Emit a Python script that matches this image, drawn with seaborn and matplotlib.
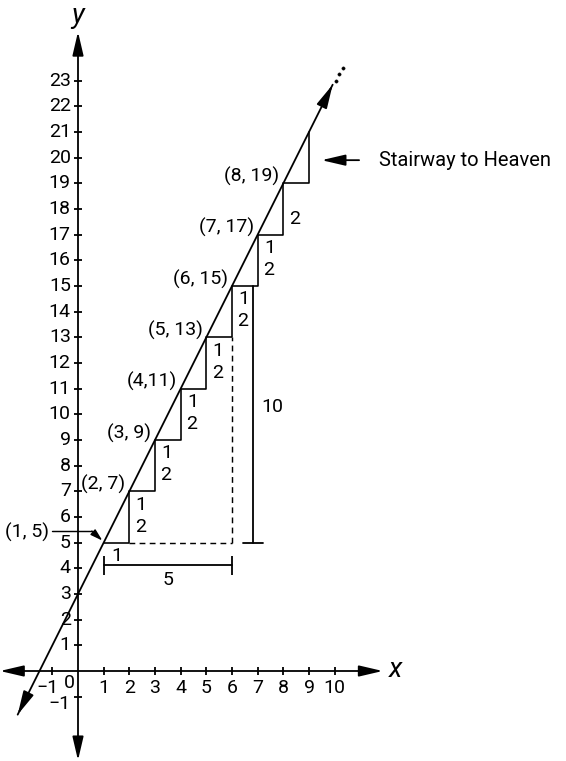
import numpy as np
import pandas as pd
import seaborn as sns
import matplotlib.pyplot as plt

# line y = 2x + 3 and the stairs under it
slope = 2
intercept = 3
line_x = [-2.35, 9.92]
step_x = [1, 2, 3, 4, 5, 6, 7, 8, 9]
step_y = [5, 7, 9, 11, 13, 15, 17, 19, 21]
point_labels = ["(1, 5)", "(2, 7)", "(3, 9)", "(4,11)", "(5, 13)",
                "(6, 15)", "(7, 17)", "(8, 19)"]
x_ticks = [-1, 1, 2, 3, 4, 5, 6, 7, 8, 9, 10]
y_ticks = [-1, 1, 2, 3, 4, 5, 6, 7, 8, 9, 10, 11, 12, 13, 14, 15, 16, 17,
           18, 19, 20, 21, 22, 23]
run_label = "5"
rise_label = "10"
note = "Stairway to Heaven"

sns.set_theme(style="white")
plt.rcParams['font.family'] = ['Roboto', 'DejaVu Sans']
plt.rcParams['text.color'] = 'black'

fig = plt.figure(figsize=(5.66, 7.61), dpi=100)
ax = fig.add_axes([0, 0, 1, 1])
ax.set_xlim(-78 / 25.67, 488 / 25.67)
ax.set_ylim(-90 / 25.67, 671 / 25.67)
ax.axis('off')

lw = 1.3
fs = 14
black = 'black'
arrow = dict(arrowstyle='-|>,head_length=1.2,head_width=0.28', color=black,
             lw=lw, shrinkA=0, shrinkB=0)
arrow2 = dict(arrowstyle='<|-|>,head_length=1.2,head_width=0.28', color=black,
              lw=lw, shrinkA=0, shrinkB=0)

# axes with arrows
ax.annotate('', xy=(11.87, 0), xytext=(-3.04, 0), arrowprops=arrow2)
ax.annotate('', xy=(0, 24.9), xytext=(0, -3.48), arrowprops=arrow2)
ax.text(12.1, 0.05, 'x', fontsize=20, style='italic', va='center', ha='left')
ax.text(0, 25.5, 'y', fontsize=20, style='italic', va='center', ha='center')

# ticks
tl = 0.15
ax.vlines(x_ticks, -tl, tl, color=black, lw=lw)
ax.hlines(y_ticks, -tl, tl, color=black, lw=lw)
for t in x_ticks:
    lab = str(t).replace('-', '\u2212')
    ax.text(t - (0.18 if t < 0 else 0), -0.33, lab, fontsize=fs,
            ha='center', va='top')
ax.text(-0.33, -0.13, '0', fontsize=fs, ha='center', va='top')
for t in y_ticks:
    lab = str(t).replace('-', '\u2212')
    ax.text(-0.28, t - (0.3 if t < 0 else 0), lab, fontsize=fs,
            ha='right', va='center')

# main line
line_df = pd.DataFrame({'x': line_x,
                        'y': [slope * v + intercept for v in line_x]})
sns.lineplot(data=line_df, x='x', y='y', color=black, lw=lw, ax=ax,
             estimator=None, sort=False)
ax.annotate('', xy=(line_df.x[1], line_df.y[1]),
            xytext=(line_df.x[1] - 0.3, line_df.y[1] - 0.6), arrowprops=arrow)
ax.annotate('', xy=(line_df.x[0], line_df.y[0]),
            xytext=(line_df.x[0] + 0.3, line_df.y[0] + 0.6), arrowprops=arrow)
# continuation dots
dots = pd.DataFrame({'x': [10.05, 10.18, 10.31], 'y': [22.98, 23.24, 23.5]})
sns.scatterplot(data=dots, x='x', y='y', color=black, s=6, ax=ax,
                edgecolor=None)

# stairs
steps = pd.DataFrame({'x': step_x, 'y': step_y})
sns.lineplot(data=steps, x='x', y='y', color=black, lw=lw * 0.9, ax=ax,
             estimator=None, sort=False, drawstyle='steps-post')

# run/rise labels on each step
ax.text(step_x[0] + 0.5, step_y[0] - 0.18, '1', fontsize=fs,
        ha='center', va='top')
for i in range(1, 7):
    x0, y0 = step_x[i], step_y[i]
    ax.text(x0 + 0.46, y0 - 0.52, '1', fontsize=fs, ha='center', va='center')
    ax.text(x0 + 0.43, y0 - 1.38, '2', fontsize=fs, ha='center', va='center')
ax.text(step_x[7] + 0.43, step_y[7] - 1.38, '2', fontsize=fs,
        ha='center', va='center')

# point labels
for i, lab in enumerate(point_labels):
    if i == 0:
        continue
    ax.text(step_x[i] - 0.15, step_y[i] + 0.27, lab, fontsize=fs,
            ha='right', va='center')
ax.text(-1.12, 5.4, point_labels[0], fontsize=fs, ha='right', va='center')
ax.plot([-1.0, 0.54], [5.45, 5.45], color=black, lw=lw * 0.8)
ax.annotate('', xy=(0.95, 5.08), xytext=(0.54, 5.45),
            arrowprops=dict(arrowstyle='-|>,head_length=0.6,head_width=0.18',
                            color=black, lw=lw * 0.8, shrinkA=0, shrinkB=0))

# dashed run/rise guides
ax.plot([step_x[1], step_x[5]], [step_y[0], step_y[0]], color=black,
        lw=lw * 0.8, ls=(0, (4, 3)))
ax.plot([step_x[5], step_x[5]], [step_y[0], step_y[4]], color=black,
        lw=lw * 0.8, ls=(0, (4, 3)))

# run bracket (5)
by = 4.12
ax.plot([step_x[0], step_x[5]], [by, by], color=black, lw=lw)
ax.vlines([step_x[0], step_x[5]], by - 0.38, by + 0.36, color=black, lw=lw)
ax.text(3.5, 3.55, run_label, fontsize=fs, ha='center', va='center')

# rise bracket (10)
rx = 6.8
ax.plot([rx, rx], [step_y[0], step_y[5]], color=black, lw=lw)
ax.plot([rx - 0.38, rx + 0.4], [step_y[0], step_y[0]], color=black, lw=lw)
ax.text(7.15, 10.27, rise_label, fontsize=fs, ha='left', va='center')

# annotation
ax.annotate('', xy=(9.49, 19.9), xytext=(10.95, 19.9), arrowprops=arrow)
ax.text(11.72, 19.9, note, fontsize=14.5, ha='left', va='center')

fig.savefig('out.png', dpi=100)
